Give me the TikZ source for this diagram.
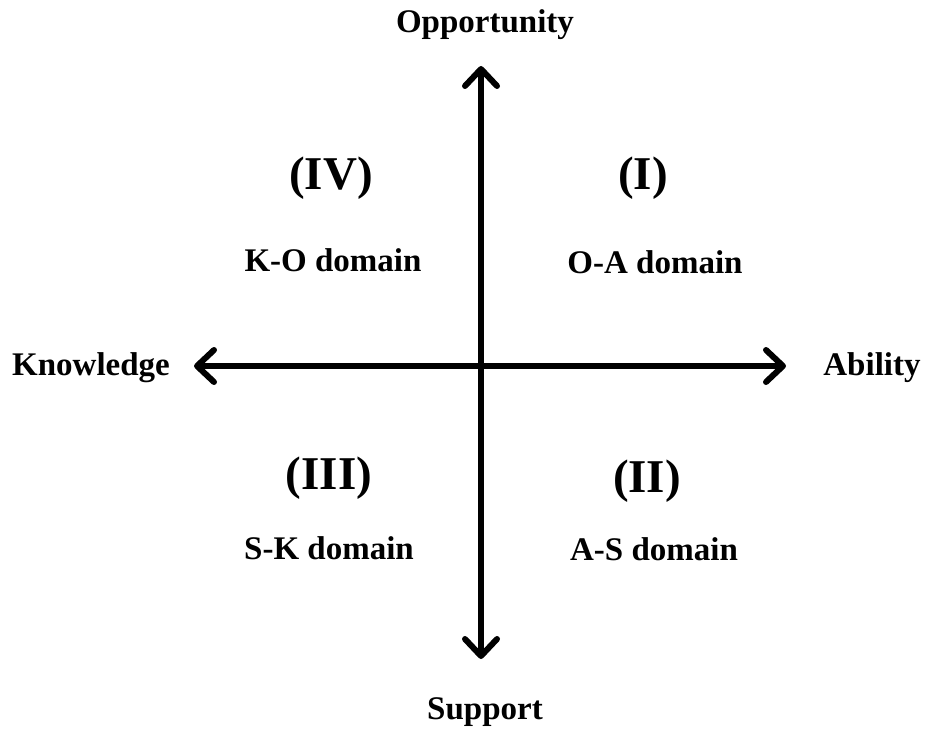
\documentclass[tikz,border=0pt]{standalone}
\usepackage{fontspec}
\setmainfont{Liberation Serif}
\usetikzlibrary{arrows.meta}
\begin{document}
\begin{tikzpicture}[x=1bp,y=-1bp,>={Straight Barb[length=17bp,width=32bp,line cap=round,line join=round]},line join=bevel,
  lbl/.style={font=\bfseries\fontsize{33bp}{38bp}\selectfont,inner sep=0pt},
  num/.style={font=\bfseries\fontsize{47bp}{52bp}\selectfont,inner sep=0pt}]
\useasboundingbox (0,0) rectangle (927,730);
%%
\coordinate (node_top) at (481,66);
  \coordinate (node_bot) at (481,659);
  \coordinate (node_lft) at (194,366);
  \coordinate (node_rgt) at (786,366);
  \node (node_o) at (485,25) [lbl] {Opportunity};
  \node (node_s) at (485,712) [lbl] {Support};
  \node (node_k) at (91,368) [lbl] {Knowledge};
  \node (node_a) at (872,368) [lbl] {Ability};
  \node (node_4) at (331,178) [num] {(IV)};
  \node (node_1) at (643,178) [num] {(I)};
  \node (node_3) at (329,478) [num] {(III)};
  \node (node_2) at (647,481) [num] {(II)};
  \node (node_ko) at (333,260) [lbl] {K-O domain};
  \node (node_oa) at (655,262) [lbl] {O-A domain};
  \node (node_sk) at (329,548) [lbl] {S-K domain};
  \node (node_as) at (654,549) [lbl] {A-S domain};
  \draw [black,line width=6bp,<->] (node_bot) -- (node_top);
  \draw [black,line width=6bp,<->] (node_lft) -- (node_rgt);
%
\end{tikzpicture}
\end{document}
